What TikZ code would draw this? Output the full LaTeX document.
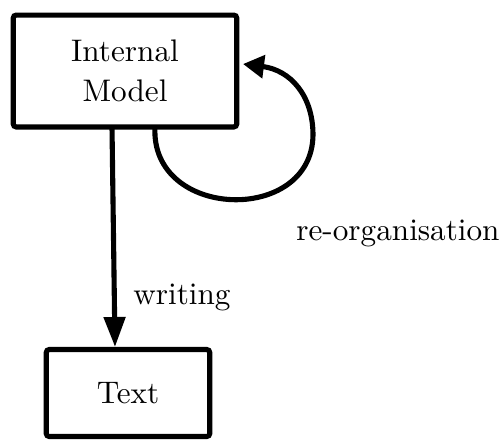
\documentclass[tikz,border=0pt]{standalone}
\usetikzlibrary{arrows.meta}
\begin{document}
\begin{tikzpicture}[x=0.3333pt, y=-0.3333pt, line width=1.7pt,
    font=\fontsize{10.4}{13.3}\selectfont,
    box/.style={draw, align=center, inner sep=0pt, rounded corners=1pt}]
  \useasboundingbox (0,0) rectangle (501,441);
  \node [box, minimum width=74.5pt, minimum height=37.3pt] (im) at (125,71) {Internal\\Model};
  \node [box, minimum width=54.5pt, minimum height=29pt] (txt) at (128,393) {Text};
  \coordinate (loopstart) at (155,127);
  \coordinate (looptip) at (243,64);
  % writing: model -> text
  \draw [-{Triangle[length=10pt,width=7pt]}] (112,127) coordinate (wstart) to (txt.north -| 115,0);
  % re-organisation loop back into the model
  \draw [-{Triangle[length=7pt,width=7.5pt]}] (loopstart) .. controls (150,220) and (312,225) .. (313,135)
        .. controls (313,95) and (290,70) .. (looptip);
  \node (wr) at (182,297) {writing};
  \node (reorg) at (398,233) {re-organisation};
\end{tikzpicture}
\end{document}
